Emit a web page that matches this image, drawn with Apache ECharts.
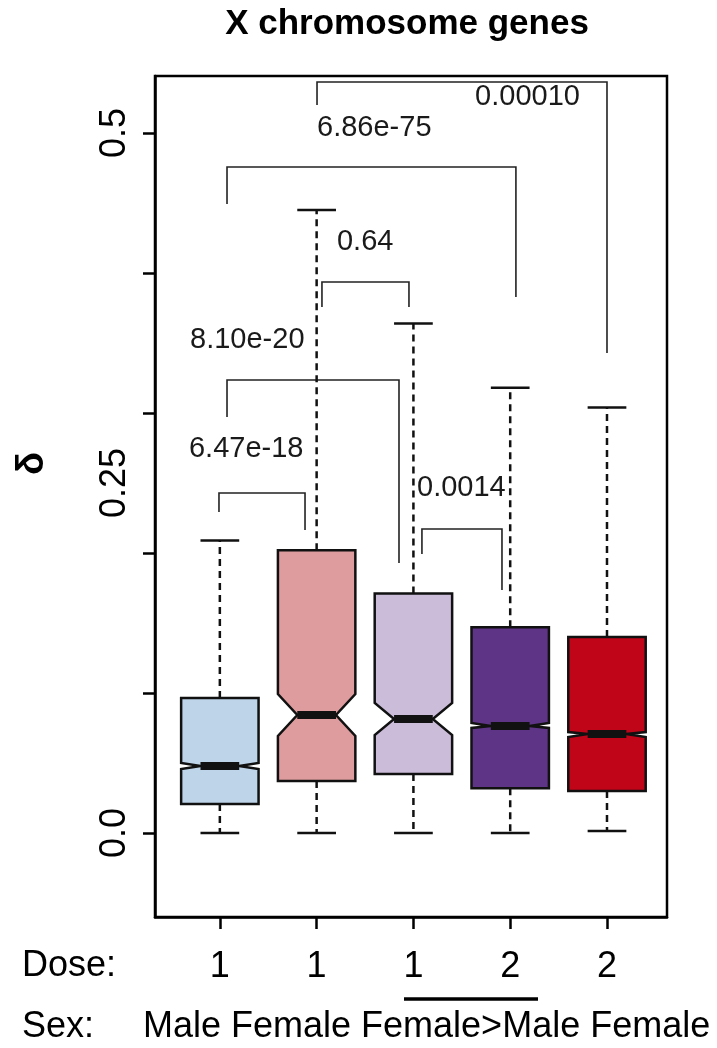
<!DOCTYPE html>
<html>
<head>
<meta charset="utf-8">
<script src="https://cdn.jsdelivr.net/npm/echarts@6/dist/echarts.min.js"></script>
<style>
html,body{margin:0;padding:0;background:#fff;}
#chart{width:717px;height:1048px;}
</style>
</head>
<body>
<div id="chart"></div>
<script>
// ---- data ----
const boxPositions = [1, 2, 3, 4, 5];
const doseLabels = ['1', '1', '1', '2', '2'];
const sexRow = 'Male Female Female>Male Female';
const whiskerLow  = [0.000, 0.000, 0.000, 0.000, 0.0014];
const q1          = [0.0207, 0.0371, 0.0421, 0.0320, 0.0300];
const notchLow    = [0.0457, 0.0693, 0.0700, 0.0750, 0.0686];
const medians     = [0.0479, 0.0843, 0.0814, 0.0764, 0.0707];
const notchHigh   = [0.0500, 0.0993, 0.0929, 0.0786, 0.0721];
const q3          = [0.0964, 0.2020, 0.1710, 0.1470, 0.1400];
const whiskerHigh = [0.209, 0.445, 0.364, 0.318, 0.304];
const boxColors = ['#BDD4E9', '#DE9C9E', '#CBBCDA', '#5E3586', '#C10518'];

const yTickValues = [0, 0.1, 0.2, 0.3, 0.4, 0.5];
const yLabelValues = [0, 0.25, 0.5];
const yLabelTexts = ['0.0', '0.25', '0.5'];

// significance brackets (data units): left x, right x, bar y, left leg end, right leg end
const brLeft   = [1.074, 2.004, 2.055, 1.074, 0.991, 3.088];
const brRight  = [4.059, 5.000, 2.954, 2.851, 1.880, 3.915];
const brY      = [0.4757, 0.5364, 0.3936, 0.3236, 0.2429, 0.2171];
const brLeftEnd  = [0.4493, 0.5200, 0.3757, 0.2971, 0.2293, 0.1993];
const brRightEnd = [0.3829, 0.3429, 0.3757, 0.1929, 0.2164, 0.1736];
const pTexts  = ['6.86e-75', '0.00010', '0.64', '8.10e-20', '6.47e-18', '0.0014'];
const pTextX  = [2.004, 4.720, 2.210, 0.692, 0.681, 3.037];
const pTextY  = [0.5036, 0.5257, 0.4221, 0.3521, 0.2743, 0.2464];
const pAlign  = ['left', 'right', 'left', 'left', 'left', 'left'];

// ---- build ----
const FONT = "'Liberation Sans', Arial, Helvetica, sans-serif";
const boxData = boxPositions.map((x, i) => [x, whiskerLow[i], q1[i], notchLow[i], medians[i], notchHigh[i], q3[i], whiskerHigh[i]]);
const bracketData = brLeft.map((x, i) => [x, brRight[i], brY[i], brLeftEnd[i], brRightEnd[i]]);
const textData = pTexts.map((t, i) => [pTextX[i], pTextY[i], i]);

const HW = 0.4; // half box width (boxwex 0.8)

function renderBox(params, api) {
  const i = params.dataIndex;
  const x = api.value(0);
  const wlo = api.value(1), bq1 = api.value(2), nlo = api.value(3), med = api.value(4), nhi = api.value(5), bq3 = api.value(6), whi = api.value(7);
  const c = (xx, yy) => api.coord([xx, yy]);
  const poly = [
    c(x - HW, bq3), c(x + HW, bq3), c(x + HW, nhi), c(x + HW / 2, med), c(x + HW, nlo),
    c(x + HW, bq1), c(x - HW, bq1), c(x - HW, nlo), c(x - HW / 2, med), c(x - HW, nhi)
  ];
  const dash = { stroke: '#111', lineWidth: 2.5, lineDash: [7, 5] };
  const solid = { stroke: '#111', lineWidth: 2.5 };
  const line = (a, b, style) => ({ type: 'line', shape: { x1: a[0], y1: a[1], x2: b[0], y2: b[1] }, style: style });
  return {
    type: 'group',
    children: [
      line(c(x, bq3), c(x, whi), dash),
      line(c(x, bq1), c(x, wlo), dash),
      line(c(x - HW / 2, whi), c(x + HW / 2, whi), solid),
      line(c(x - HW / 2, wlo), c(x + HW / 2, wlo), solid),
      { type: 'polygon', shape: { points: poly }, style: { fill: boxColors[i], stroke: '#111', lineWidth: 2.5, lineJoin: 'miter' } },
      line(c(x - HW / 2, med), c(x + HW / 2, med), { stroke: '#111', lineWidth: 8 })
    ]
  };
}

function renderBracket(params, api) {
  const c = (xx, yy) => api.coord([xx, yy]);
  const x1 = api.value(0), x2 = api.value(1), y = api.value(2), e1 = api.value(3), e2 = api.value(4);
  return {
    type: 'polyline',
    shape: { points: [c(x1, e1), c(x1, y), c(x2, y), c(x2, e2)] },
    style: { stroke: '#222', lineWidth: 1.6, fill: null }
  };
}

function renderText(params, api) {
  const k = api.value(2);
  const p = api.coord([api.value(0), api.value(1)]);
  return {
    type: 'text',
    x: p[0], y: p[1],
    style: { text: pTexts[k], font: '29px ' + FONT, fill: '#1a1a1a', align: pAlign[k], verticalAlign: 'middle' }
  };
}

const chart = echarts.init(document.getElementById('chart'), null, { renderer: 'canvas' });
chart.setOption({
  backgroundColor: '#fff',
  animation: false,
  title: {
    text: 'X chromosome genes', left: 402, top: 2, textAlign: 'center',
    textStyle: { fontFamily: FONT, fontSize: 35, fontWeight: 'bold', color: '#000' }
  },
  grid: { left: 155, right: 50, top: 76, bottom: 131, show: true, borderColor: '#000', borderWidth: 2.5, backgroundColor: 'transparent' },
  xAxis: {
    type: 'value', min: 0.33, max: 5.62,
    axisLine: { show: true, onZero: false, lineStyle: { color: '#000', width: 2.5 } },
    axisTick: { show: true, length: 12, lineStyle: { color: '#000', width: 2.5 }, customValues: boxPositions },
    axisLabel: {
      customValues: boxPositions,
      formatter: v => doseLabels[boxPositions.indexOf(Math.round(v))],
      fontFamily: FONT, fontSize: 36, color: '#000', margin: 32
    },
    splitLine: { show: false }
  },
  yAxis: {
    type: 'value', min: -0.06, max: 0.5407,
    axisLine: { show: true, onZero: false, lineStyle: { color: '#000', width: 2.5 } },
    axisTick: { show: true, length: 12, lineStyle: { color: '#000', width: 2.5 }, customValues: yTickValues },
    axisLabel: {
      customValues: yLabelValues,
      formatter: v => { const k = yLabelValues.findIndex(t => Math.abs(t - v) < 1e-6); return k >= 0 ? yLabelTexts[k] : ''; },
      rotate: 90, fontFamily: FONT, fontSize: 36, color: '#000', margin: 22
    },
    splitLine: { show: false }
  },
  graphic: [
    { type: 'text', left: 14, top: 452, rotation: Math.PI / 2, style: { text: 'δ', font: 'bold 38px ' + FONT, fill: '#000' } },
    { type: 'text', left: 22, top: 948, style: { text: 'Dose:', font: '36px ' + FONT, fill: '#000' } },
    { type: 'line', shape: { x1: 404, y1: 999, x2: 538, y2: 999 }, style: { stroke: '#000', lineWidth: 3.5 } },
    { type: 'text', left: 22, top: 1009, style: { text: 'Sex:', font: '36px ' + FONT, fill: '#000' } },
    { type: 'text', left: 143, top: 1009, style: { text: sexRow, font: '36px ' + FONT, fill: '#000' } }
  ],
  series: [
    { type: 'custom', renderItem: renderBracket, data: bracketData, silent: true, z: 3 },
    { type: 'custom', renderItem: renderBox, data: boxData, silent: true, z: 4 },
    { type: 'custom', renderItem: renderText, data: textData, silent: true, z: 5 }
  ]
});
</script>
</body>
</html>
